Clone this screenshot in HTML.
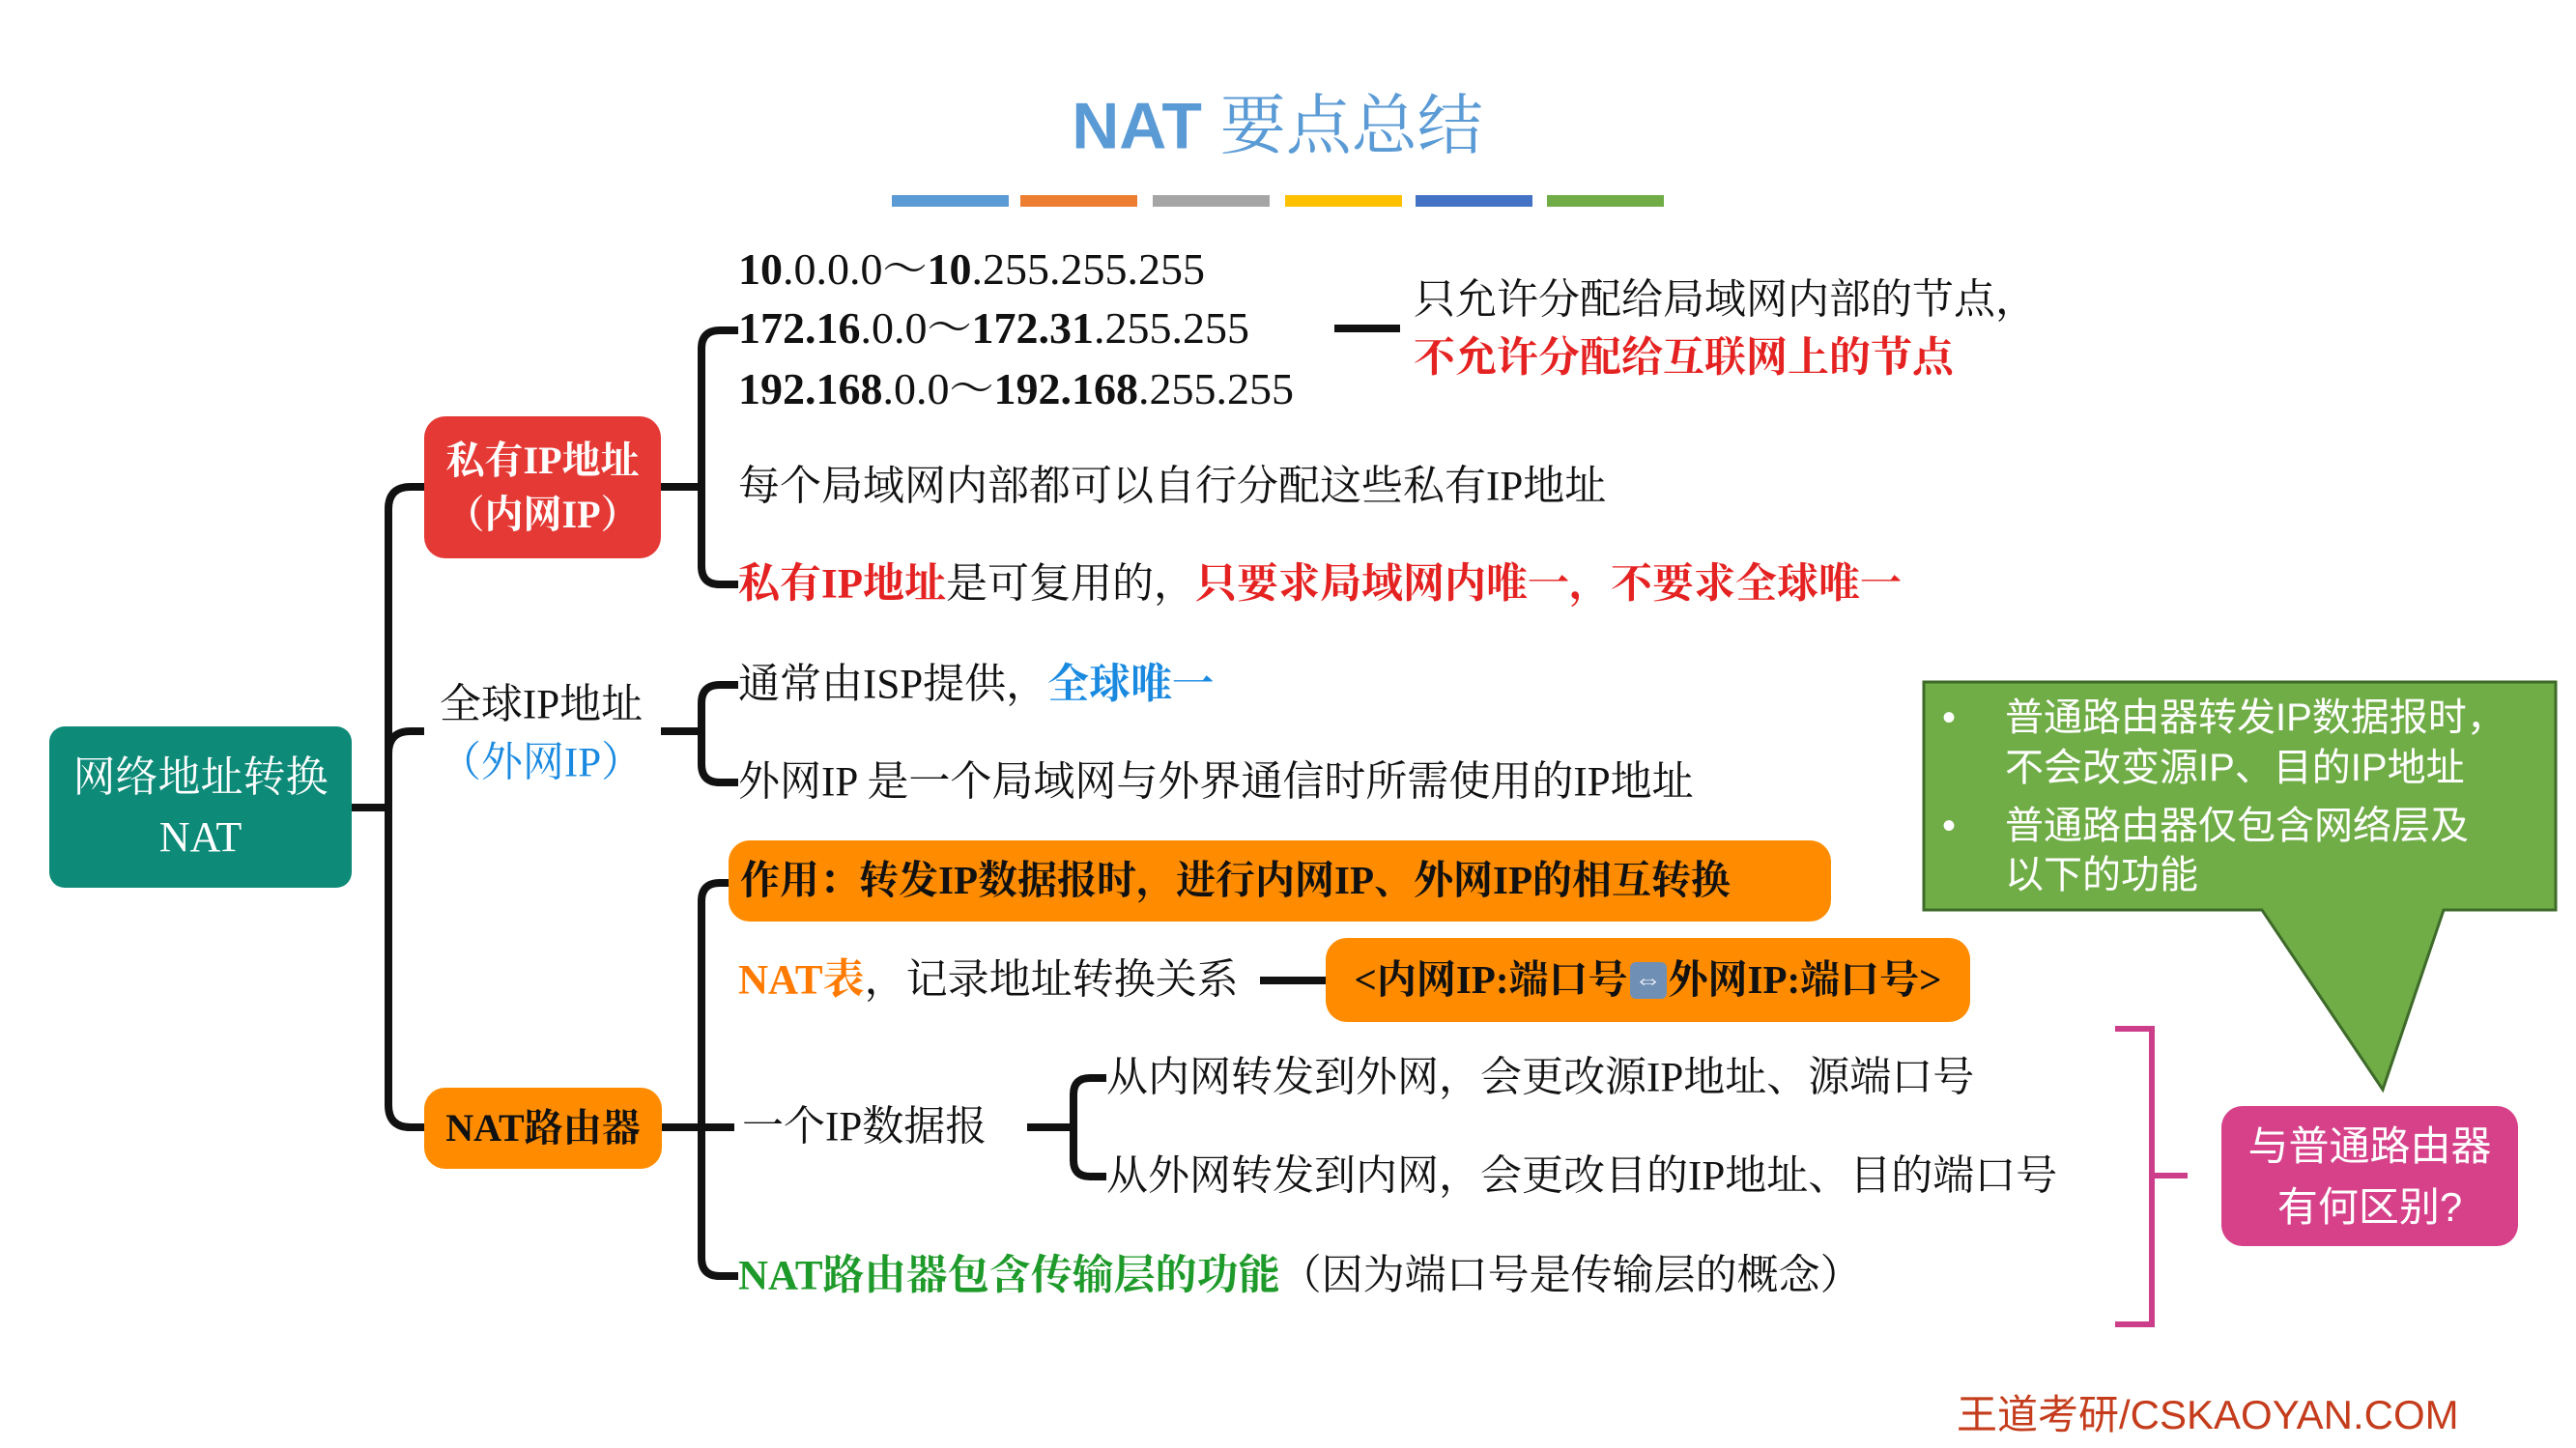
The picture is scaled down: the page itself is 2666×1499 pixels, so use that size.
<!DOCTYPE html>
<html><head><meta charset="utf-8"><style>
*{margin:0;padding:0;box-sizing:border-box}
body{width:2666px;height:1499px;background:#fff;position:relative;overflow:hidden;font-family:"Liberation Serif","Noto Serif CJK SC","Noto Sans CJK SC",serif;color:#111}
.t{position:absolute;white-space:nowrap;font-size:43px;line-height:1;transform:translateY(-50%)}
.box{position:absolute;border-radius:22px;display:flex;align-items:center;justify-content:center;text-align:center;line-height:1.4}
.b{font-weight:bold}
.red{color:#e52222}
.blue{color:#1a8ae0}
.org{color:#ff7a00}
.grn{color:#1e9a2a}
.ip{font-size:46px}
.g{color:#fff;font-size:40px;font-family:'Liberation Sans','Noto Sans CJK SC',sans-serif}
</style></head><body>
<div class="t" style="left:1322px;top:128px;transform:translate(-50%,-50%);font-size:68px;color:#5b9bd5;font-family:'Liberation Sans','Noto Sans CJK SC',sans-serif;font-weight:bold">NAT <span style="font-weight:normal;font-family:'Noto Serif CJK SC',serif">要点总结</span></div>
<div style="position:absolute;top:202px;height:12px;left:923px;width:121px;background:#5b9bd5"></div>
<div style="position:absolute;top:202px;height:12px;left:1056px;width:121px;background:#ed7d31"></div>
<div style="position:absolute;top:202px;height:12px;left:1193px;width:121px;background:#a5a5a5"></div>
<div style="position:absolute;top:202px;height:12px;left:1330px;width:121px;background:#ffc000"></div>
<div style="position:absolute;top:202px;height:12px;left:1465px;width:121px;background:#4472c4"></div>
<div style="position:absolute;top:202px;height:12px;left:1601px;width:121px;background:#70ad47"></div>

<svg width="2666" height="1499" style="position:absolute;left:0;top:0" fill="none" stroke-linecap="butt">
<g stroke="#111" stroke-width="8">
<path d="M364 836 H402"/>
<path d="M439 504 H425 Q402 504 402 527 V1144 Q402 1167 425 1167 H439"/>
<path d="M402 780 Q402 757 425 757 H439"/>
<path d="M684 504 H726"/>
<path d="M764 342 H745 Q726 342 726 361 V586 Q726 605 745 605 H764"/>
<path d="M1381 340 H1449"/>
<path d="M684 757 H726"/>
<path d="M764 709 H745 Q726 709 726 728 V791 Q726 810 745 810 H764"/>
<path d="M685 1167 H760"/>
<path d="M754 914 H745 Q726 914 726 933 V1302 Q726 1321 745 1321 H764"/>
<path d="M1304 1015 H1372"/>
<path d="M1063 1167 H1111"/>
<path d="M1145 1116 H1128 Q1111 1116 1111 1133 V1201 Q1111 1218 1128 1218 H1145"/>
</g>
<g stroke="#cc3d8a" stroke-width="6">
<path d="M2189 1065 H2227 V1371 H2189"/>
<path d="M2227 1217 H2264"/>
</g>
<path d="M1991 706 H2645 V942 H2529 L2466 1128 L2341 942 H1991 Z" fill="#70ad47" stroke="#3e6a2a" stroke-width="3"/>
</svg>

<div class="box" style="left:51px;top:752px;width:313px;height:167px;background:#0e8a78;color:#fff;font-size:44px;border-radius:16px">网络地址转换<br>NAT</div>
<div class="box b" style="left:439px;top:431px;width:245px;height:147px;background:#e53935;color:#fff;font-size:40px">私有IP地址<br>（内网IP）</div>
<div class="t" style="left:560px;top:730px;transform:translate(-50%,-50%);font-size:43px">全球IP地址</div>
<div class="t blue" style="left:560px;top:790px;transform:translate(-50%,-50%);font-size:43px">（外网IP）</div>
<div class="box b" style="left:439px;top:1126px;width:246px;height:84px;background:#ff8c00;color:#111;font-size:40px">NAT路由器</div>

<div class="t ip" style="left:764px;top:279px"><b>10</b>.0.0.0～<b>10</b>.255.255.255</div>
<div class="t ip" style="left:764px;top:340px"><b>172.16</b>.0.0～<b>172.31</b>.255.255</div>
<div class="t ip" style="left:764px;top:403px"><b>192.168</b>.0.0～<b>192.168</b>.255.255</div>
<div class="t" style="left:1463px;top:311px">只允许分配给局域网内部的节点，</div>
<div class="t red b" style="left:1463px;top:371px">不允许分配给互联网上的节点</div>
<div class="t" style="left:764px;top:504px">每个局域网内部都可以自行分配这些私有IP地址</div>
<div class="t" style="left:764px;top:605px"><span class="red b">私有IP地址</span>是可复用的，<span class="red b">只要求局域网内唯一，不要求全球唯一</span></div>
<div class="t" style="left:764px;top:709px">通常由ISP提供，<span class="blue b">全球唯一</span></div>
<div class="t" style="left:764px;top:810px">外网IP 是一个局域网与外界通信时所需使用的IP地址</div>

<div class="box b" style="left:754px;top:870px;width:1141px;height:84px;background:#ff8c00;font-size:41px;justify-content:flex-start;padding-left:12px">作用：转发IP数据报时，进行内网IP、外网IP的相互转换</div>
<div class="t" style="left:764px;top:1015px"><span class="org b">NAT表</span>，记录地址转换关系</div>
<div class="box b" style="left:1372px;top:971px;width:667px;height:87px;background:#ff8c00;font-size:41px">&lt;内网IP:端口号<span style="display:inline-block;width:38px;height:38px;background:#6f8fb5;border-radius:6px;color:#fff;font-size:28px;line-height:38px;margin:0 2px">⇔</span>外网IP:端口号&gt;</div>
<div class="t" style="left:768px;top:1167px">一个IP数据报</div>
<div class="t" style="left:1145px;top:1116px">从内网转发到外网，会更改源IP地址、源端口号</div>
<div class="t" style="left:1145px;top:1218px">从外网转发到内网，会更改目的IP地址、目的端口号</div>
<div class="t" style="left:764px;top:1321px"><span class="grn b">NAT路由器包含传输层的功能</span>（因为端口号是传输层的概念）</div>

<div class="t g" style="left:2010px;top:743px">•</div>
<div class="t g" style="left:2075px;top:743px">普通路由器转发IP数据报时，</div>
<div class="t g" style="left:2075px;top:795px">不会改变源IP、目的IP地址</div>
<div class="t g" style="left:2010px;top:855px">•</div>
<div class="t g" style="left:2075px;top:855px">普通路由器仅包含网络层及</div>
<div class="t g" style="left:2075px;top:906px">以下的功能</div>

<div class="box" style="left:2299px;top:1145px;width:307px;height:145px;background:#d6418a;color:#fff;font-size:42px;font-family:'Liberation Sans','Noto Sans CJK SC',sans-serif;line-height:1.5">与普通路由器<br>有何区别?</div>

<div class="t" style="left:2025px;top:1465px;color:#c43c1c;font-size:42px;font-family:'Liberation Sans','Noto Sans CJK SC',sans-serif">王道考研/CSKAOYAN.COM</div>
</body></html>
